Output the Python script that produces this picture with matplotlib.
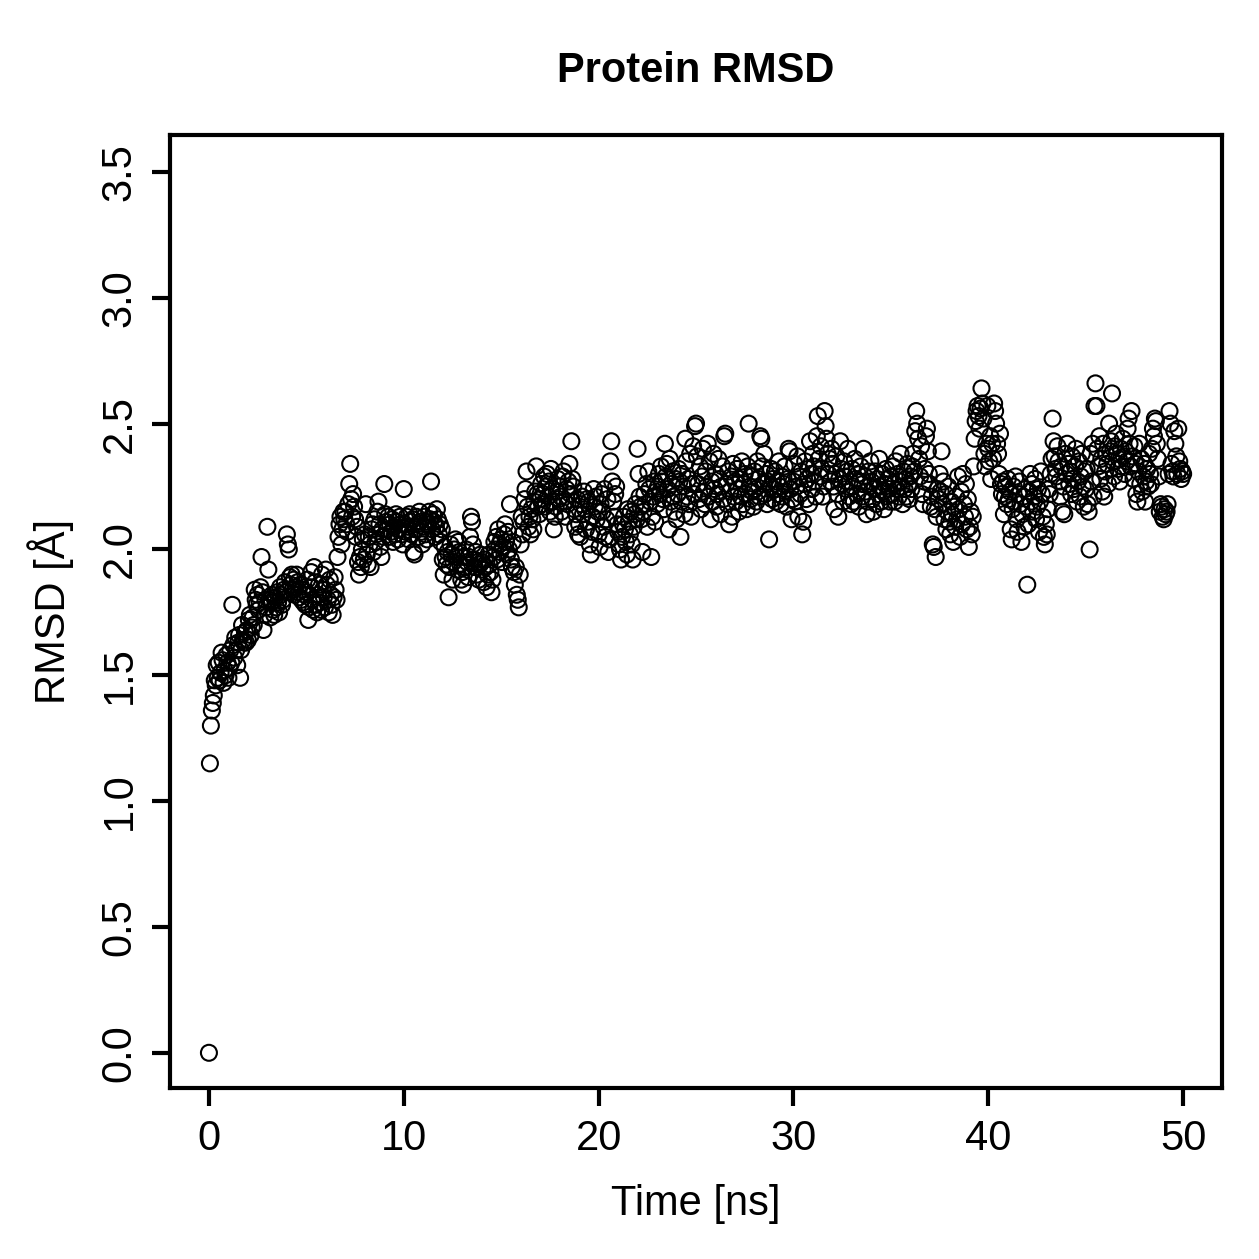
import numpy as np
import matplotlib
matplotlib.use('Agg')
import matplotlib.pyplot as plt

plt.rcParams['font.family'] = ['Liberation Sans', 'DejaVu Sans']

# RMSD values (Angstrom), one frame every 0.05 ns, one row per ns
rmsd = [
    0.00,1.15,1.30,1.36,1.39,1.42,1.48,1.46,1.54,1.49,1.55,1.48,1.51,1.59,1.56,1.47,1.52,1.50,1.58,1.55,
    1.49,1.53,1.60,1.55,1.78,1.62,1.57,1.65,1.60,1.54,1.63,1.66,1.49,1.60,1.70,1.64,1.63,1.67,1.63,1.68,
    1.64,1.72,1.74,1.66,1.69,1.73,1.70,1.84,1.80,1.78,1.82,1.76,1.79,1.85,1.97,1.83,1.68,1.74,1.80,1.77,
    2.09,1.92,1.80,1.73,1.79,1.82,1.76,1.74,1.81,1.77,1.83,1.79,1.75,1.85,1.82,1.78,1.80,1.84,1.87,1.83,
    2.06,2.02,2.00,1.89,1.86,1.90,1.84,1.88,1.82,1.85,1.90,1.87,1.83,1.81,1.86,1.80,1.84,1.79,1.82,1.78,
    1.83,1.88,1.72,1.77,1.85,1.91,1.80,1.76,1.93,1.87,1.78,1.75,1.82,1.86,1.79,1.76,1.90,1.84,1.81,1.77,
    1.92,1.86,1.80,1.75,1.88,1.82,1.78,1.74,1.81,1.89,1.84,1.80,1.97,2.05,2.10,2.13,2.02,2.08,2.15,2.12,
    2.15,2.10,2.07,2.18,2.26,2.34,2.20,2.13,2.22,2.17,2.12,2.05,2.09,1.95,1.90,1.97,1.93,2.00,2.04,1.96,
    2.06,2.18,1.98,1.94,2.05,2.02,1.93,2.08,2.10,1.99,2.12,2.03,2.06,2.15,2.19,2.10,2.01,1.97,2.08,2.05,
    2.26,2.14,2.11,2.08,2.13,2.05,2.10,2.07,2.12,2.03,2.09,2.06,2.14,2.11,2.04,2.08,2.13,2.10,2.06,2.02,
    2.24,2.10,2.07,2.13,2.09,2.04,2.14,2.11,2.06,2.12,1.99,1.98,2.08,2.13,2.10,2.05,2.15,2.11,2.07,2.02,
    2.09,2.13,2.06,2.11,2.04,2.10,2.15,2.12,2.27,2.08,2.14,2.11,2.05,2.09,2.16,2.12,2.06,2.10,2.03,2.08,
    1.96,1.90,2.01,1.97,1.94,1.99,1.81,1.93,2.02,1.98,1.88,1.95,2.00,2.04,1.97,1.92,2.03,1.99,1.94,1.88,
    1.91,1.86,1.97,1.93,2.00,1.95,1.89,1.97,2.05,2.13,2.11,2.02,1.96,1.93,1.99,1.90,1.95,1.88,1.94,1.98,
    1.95,1.92,1.87,1.96,1.93,1.85,1.90,1.98,1.94,1.91,1.83,1.88,1.97,2.03,2.00,2.05,1.96,2.08,2.02,1.99,
    2.04,1.95,2.01,2.06,2.10,2.03,1.98,2.07,2.00,2.18,1.96,1.93,2.03,1.91,1.86,1.93,1.82,1.80,1.77,1.90,
    2.02,2.13,2.06,2.11,2.20,2.24,2.31,2.17,2.09,2.13,2.06,2.16,2.12,2.08,2.19,2.23,2.33,2.22,2.17,2.14,
    2.20,2.26,2.18,2.22,2.29,2.17,2.25,2.30,2.21,2.27,2.15,2.32,2.24,2.19,2.08,2.13,2.17,2.23,2.28,2.20,
    2.25,2.21,2.15,2.29,2.31,2.19,2.13,2.24,2.18,2.27,2.34,2.22,2.43,2.28,2.25,2.16,2.09,2.14,2.20,2.06,
    2.10,2.05,2.18,2.21,2.14,2.23,2.16,2.08,2.20,2.11,2.19,2.02,1.98,2.07,2.13,2.24,2.17,2.21,2.12,2.15,
    2.06,2.01,2.18,2.22,2.15,2.09,2.24,2.05,2.12,2.20,1.99,2.04,2.35,2.43,2.27,2.19,2.13,2.22,2.25,2.10,
    2.07,2.02,2.00,1.96,2.05,2.10,2.13,2.08,2.03,1.98,2.16,2.11,2.06,2.15,2.02,1.96,2.09,2.14,2.18,2.12,
    2.40,2.30,2.21,2.17,2.12,1.99,2.15,2.22,2.18,2.26,2.09,2.31,2.24,2.19,1.97,2.13,2.21,2.27,2.11,2.23,
    2.18,2.25,2.30,2.22,2.33,2.27,2.20,2.16,2.42,2.29,2.34,2.24,2.08,2.36,2.19,2.26,2.31,2.21,2.15,2.28,
    2.12,2.22,2.32,2.27,2.05,2.19,2.30,2.25,2.14,2.44,2.35,2.21,2.28,2.18,2.38,2.13,2.26,2.41,2.22,2.49,
    2.50,2.37,2.26,2.20,2.33,2.16,2.29,2.40,2.23,2.18,2.31,2.25,2.42,2.21,2.35,2.12,2.27,2.19,2.38,2.24,
    2.30,2.17,2.22,2.36,2.28,2.14,2.25,2.33,2.20,2.45,2.46,2.26,2.18,2.31,2.10,2.23,2.29,2.13,2.34,2.21,
    2.27,2.19,2.32,2.24,2.15,2.28,2.21,2.35,2.18,2.26,2.30,2.22,2.16,2.33,2.50,2.25,2.20,2.29,2.23,2.17,
    2.31,2.24,2.19,2.35,2.28,2.21,2.45,2.44,2.33,2.26,2.38,2.22,2.30,2.18,2.27,2.04,2.25,2.32,2.20,2.28,
    2.24,2.31,2.19,2.27,2.22,2.35,2.25,2.18,2.29,2.21,2.26,2.33,2.23,2.17,2.28,2.40,2.39,2.24,2.12,2.20,
    2.27,2.34,2.19,2.25,2.37,2.13,2.29,2.22,2.31,2.06,2.11,2.26,2.35,2.20,2.28,2.32,2.18,2.43,2.30,2.24,
    2.38,2.33,2.27,2.21,2.45,2.53,2.36,2.29,2.41,2.32,2.21,2.25,2.55,2.49,2.44,2.38,2.30,2.36,2.27,2.40,
    2.34,2.25,2.16,2.30,2.37,2.22,2.13,2.28,2.43,2.32,2.26,2.19,2.35,2.29,2.24,2.31,2.40,2.21,2.27,2.18,
    2.32,2.25,2.19,2.36,2.28,2.22,2.30,2.17,2.27,2.33,2.21,2.26,2.40,2.29,2.23,2.14,2.19,2.31,2.25,2.35,
    2.27,2.20,2.15,2.24,2.31,2.18,2.28,2.22,2.36,2.25,2.19,2.30,2.23,2.16,2.26,2.32,2.21,2.28,2.24,2.19,
    2.29,2.22,2.33,2.26,2.19,2.35,2.24,2.30,2.21,2.27,2.38,2.25,2.18,2.31,2.24,2.28,2.21,2.34,2.26,2.20,
    2.29,2.24,2.33,2.38,2.31,2.47,2.55,2.50,2.44,2.36,2.29,2.41,2.22,2.18,2.27,2.32,2.45,2.48,2.39,2.30,
    2.26,2.17,2.21,2.02,2.01,2.16,1.97,2.13,2.24,2.20,2.30,2.23,2.39,2.18,2.27,2.12,2.22,2.08,2.15,2.25,
    2.11,2.06,2.19,2.14,2.03,2.17,2.09,2.21,2.12,2.29,2.16,2.05,2.23,2.10,2.30,2.18,2.13,2.26,2.08,2.20,
    2.01,2.09,2.15,2.06,2.13,2.33,2.44,2.51,2.55,2.57,2.53,2.48,2.56,2.64,2.58,2.52,2.38,2.33,2.42,2.57,
    2.40,2.35,2.45,2.28,2.42,2.36,2.58,2.55,2.50,2.42,2.38,2.30,2.46,2.26,2.22,2.27,2.14,2.21,2.25,2.18,
    2.28,2.20,2.23,2.08,2.04,2.16,2.25,2.19,2.29,2.12,2.07,2.22,2.27,2.18,2.03,2.14,2.21,2.09,2.24,2.17,
    1.86,2.10,2.23,2.30,2.19,2.26,2.15,2.21,2.28,2.12,2.17,2.24,2.07,2.19,2.31,2.22,2.13,2.05,2.02,2.10,
    2.06,2.16,2.24,2.22,2.30,2.36,2.52,2.43,2.37,2.32,2.29,2.41,2.35,2.27,2.21,2.33,2.15,2.25,2.14,2.38,
    2.30,2.42,2.34,2.26,2.31,2.22,2.37,2.28,2.24,2.33,2.40,2.19,2.27,2.35,2.21,2.29,2.38,2.25,2.17,2.31,
    2.24,2.32,2.18,2.15,2.00,2.38,2.27,2.42,2.21,2.57,2.66,2.57,2.40,2.33,2.45,2.28,2.36,2.23,2.42,2.21,
    2.31,2.38,2.34,2.26,2.50,2.39,2.43,2.62,2.35,2.29,2.41,2.46,2.38,2.32,2.36,2.27,2.40,2.33,2.44,2.37,
    2.30,2.39,2.35,2.48,2.52,2.42,2.33,2.55,2.37,2.28,2.41,2.34,2.22,2.19,2.31,2.42,2.26,2.36,2.23,2.29,
    2.34,2.19,2.27,2.32,2.25,2.38,2.30,2.26,2.40,2.48,2.45,2.52,2.51,2.42,2.36,2.29,2.15,2.18,2.17,2.13,
    2.12,2.16,2.14,2.15,2.18,2.30,2.55,2.50,2.34,2.31,2.29,2.47,2.42,2.37,2.30,2.48,2.35,2.32,2.28,2.31,
    2.30,
]
time_ns = np.arange(len(rmsd)) * 0.05

xticks = [0, 10, 20, 30, 40, 50]
yticks = [0.0, 0.5, 1.0, 1.5, 2.0, 2.5, 3.0, 3.5]

fig = plt.figure(figsize=(12.59, 12.59), dpi=100)
ax = fig.add_axes([0.135, 0.1358, 0.8357, 0.757])

ax.scatter(time_ns, rmsd, s=11.5**2, facecolors='none', edgecolors='black', linewidths=1.5)

ax.set_xlim(-2, 52)
ax.set_ylim(-0.14, 3.647)
ax.set_xticks(xticks)
ax.set_xticklabels([str(t) for t in xticks])
ax.set_yticks(yticks)
ax.set_yticklabels([f'{v:.1f}' for v in yticks], rotation=90, va='center')

for s in ax.spines.values():
    s.set_linewidth(3)
ax.tick_params(axis='both', direction='out', length=13, width=3, labelsize=30, pad=9)

ax.set_xlabel('Time [ns]', fontsize=30, labelpad=18)
ax.set_ylabel('RMSD [Å]', fontsize=30, labelpad=18)
ax.set_title('Protein RMSD', fontsize=30, fontweight='bold', pad=38)

fig.savefig('out.png', dpi=100)
